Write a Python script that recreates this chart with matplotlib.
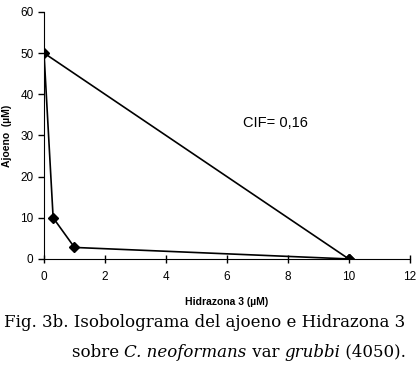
import matplotlib
matplotlib.use("Agg")
import matplotlib.pyplot as plt
from matplotlib.offsetbox import TextArea, HPacker, AnchoredOffsetbox

hidrazona = [10, 1, 0.3, 0, 10]
ajoeno = [0, 2.8, 10, 50, 0]
xticks = [0, 2, 4, 6, 8, 10, 12]
yticks = [0, 10, 20, 30, 40, 50, 60]

plt.rcParams['font.family'] = ['Liberation Sans', 'DejaVu Sans']
fig = plt.figure(figsize=(4.19, 3.71), dpi=100)
ax = fig.add_axes([0.105, 0.302, 0.873, 0.666])
ax.plot(hidrazona, ajoeno, color='black', lw=1.2, marker='D', ms=5, mfc='black', mec='black')
ax.set_xlim(0, 12)
ax.set_ylim(0, 60)
ax.set_xticks(xticks)
ax.set_yticks(yticks)
ax.spines['top'].set_visible(False)
ax.spines['right'].set_visible(False)
ax.tick_params(labelsize=8.5, direction='out', length=4, width=1)
ax.tick_params(axis='x', direction='inout', length=6, pad=6)
ax.set_xlabel('Hidrazona 3 (µM)', fontsize=7.5, fontweight='bold', labelpad=10)
ax.set_ylabel('Ajoeno  (µM)', fontsize=7.5, fontweight='bold', labelpad=6)
ax.text(7.6, 33, 'CIF= 0,16', fontsize=10.5, ha='center', va='center')

serif = ['DejaVu Serif']
fs = 12
fig.text(0.01, 0.118, 'Fig. 3b. Isobolograma del ajoeno e Hidrazona 3',
         family=serif, fontsize=fs, va='baseline')
parts = [('sobre ', 'normal'), ('C. neoformans', 'italic'), (' var ', 'normal'),
         ('grubbi', 'italic'), (' (4050).', 'normal')]
boxes = [TextArea(t, textprops=dict(family=serif, fontsize=fs, style=s)) for t, s in parts]
pack = HPacker(children=boxes, align='baseline', pad=0, sep=0)
ab = AnchoredOffsetbox(loc='lower left', child=pack, pad=0, frameon=False,
                       bbox_to_anchor=(0.172, 0.028), bbox_transform=fig.transFigure, borderpad=0)
fig.add_artist(ab)
fig.savefig('out.png', dpi=100)
